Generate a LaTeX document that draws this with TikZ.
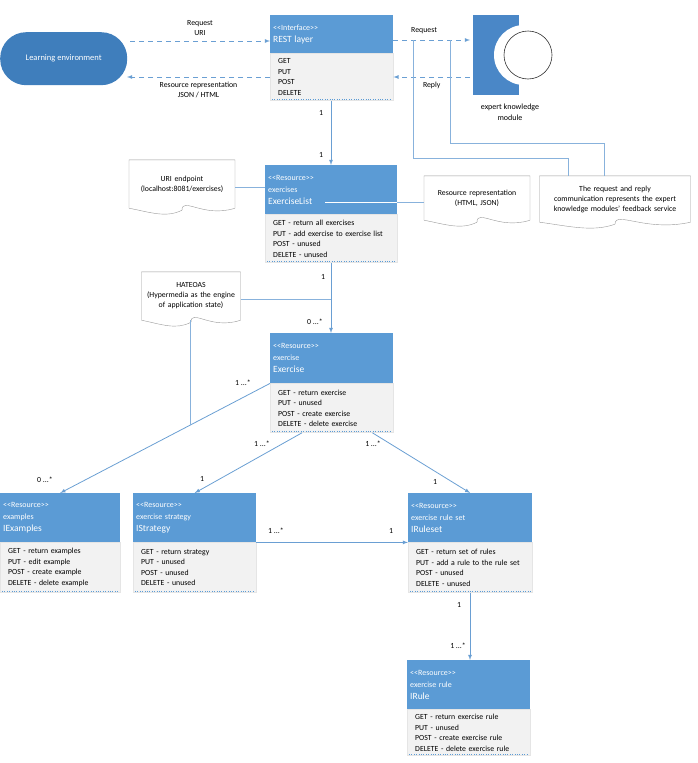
\documentclass[tikz,border=0pt]{standalone}
\usepackage{fontspec}
\setmainfont{Carlito}
\usetikzlibrary{arrows, positioning, calc}

\definecolor{hdblue}{HTML}{5B9BD5}
\definecolor{lnblue}{HTML}{6A9FD3}
\definecolor{envblue}{HTML}{3F7EBC}
\definecolor{modblue}{HTML}{4A87C7}
\definecolor{bodygrey}{HTML}{F2F2F2}

\tikzset{
    head/.style={rectangle, fill=hdblue, text=white, anchor=north west, align=left, inner sep=3pt, font=\fontsize{8}{12}\selectfont},
    body/.style={rectangle, fill=bodygrey, draw=black!10, anchor=north west, align=left, inner xsep=8pt, inner ysep=3pt, font=\fontsize{7.8}{10.5}\selectfont},
    note/.style={rectangle, align=center, font=\fontsize{7.8}{10}\selectfont},
    link/.style={draw=lnblue!80, line width=0.8pt},
    arrow/.style={->, >=latex, draw=lnblue, line width=0.8pt},
    dasharrow/.style={->, >=latex, draw=lnblue, line width=0.8pt, dash pattern=on 5pt off 4pt},
    mult/.style={font=\fontsize{7.8}{8}\selectfont}
}

\newcommand{\stereo}[1]{{<}{<}#1{>}{>}}
\newcommand{\ttl}{\fontsize{9.5}{16}\selectfont}

% document shape with a wavy bottom
\newcommand{\docnote}[6]{%
  \node[note, minimum width=#4pt, minimum height=#5pt, text width=#4pt-6pt] (#1) at (#2,#3) {#6};
  \draw[draw=black!40, fill=white] (#1.south west) -- (#1.north west) -- (#1.north east) -- (#1.south east)
     .. controls ($(#1.south east)+(-0.3*#4pt,-10pt)$) and ($(#1.south)+(0,12pt)$) .. ($(#1.south)+(0,-2pt)$)
     .. controls ($(#1.south)+(-0.15*#4pt,-10pt)$) and ($(#1.south west)+(0.2*#4pt,-4pt)$) .. (#1.south west);
  \node[note, text width=#4pt-6pt] at (#1) {#6};
}

\begin{document}
\begin{tikzpicture}[x=1pt, y=-1pt]
\useasboundingbox (0,0) rectangle (697,763);

% REST layer
\node[head, minimum width=123pt, minimum height=38pt, text width=117pt] (restH) at (270,15) {\stereo{Interface}\\\ttl REST layer};
\node[body, minimum width=123pt, minimum height=47pt, text width=107pt] (restB) at (restH.south west) {GET\\PUT\\POST\\DELETE};
\draw[hdblue, dotted] ($(restB.south west)+(2,-2)$) -- ($(restB.south east)+(-2,-2)$);

% learning environment
\node[rectangle, rounded corners=26pt, fill=envblue, text=white, minimum width=127pt, minimum height=53pt, anchor=north west, font=\fontsize{8.5}{9}\selectfont] (env) at (0,32) {Learning environment};

% expert knowledge module
\fill[modblue] (473,15) rectangle (519,95);
\fill[white] (524,55) circle (30pt);
\draw[black!80, fill=white, line width=0.6pt] (528,55) circle (24pt);
\node[note, font=\fontsize{8}{11}\selectfont] (ekm) at (510,112) {expert knowledge\\module};
\coordinate (ekmIn) at (470,40);
\coordinate (ekmOut) at (470,77);

% request / reply
\coordinate (envIn) at (127,77);
\coordinate (envOut) at (130,41);
\draw[dasharrow] (envOut) -- (restH.west |- envOut) node[midway, above, note, yshift=2pt] {Request\\URI};
\draw[dasharrow] (restB.west |- envIn) -- (envIn) node[midway, below, note, yshift=-1pt] {Resource representation\\JSON / HTML};
\draw[dasharrow] (restH.east |- ekmIn) -- (ekmIn) node[pos=0.4, above, note, yshift=3pt] {Request};
\draw[dasharrow] (ekmOut) -- (restB.east |- ekmOut) node[pos=0.5, below, note, yshift=-1pt] {Reply};

% notes
\docnote{uriNote}{182}{184}{105}{48}{URI endpoint\\(localhost:8081/exercises)}
\docnote{repNote}{477}{198}{105}{44}{Resource representation\\(HTML, JSON)}
\docnote{feedNote}{615}{199}{150}{46}{The request and reply\\communication represents the expert\\knowledge modules' feedback service}
\docnote{hateNote}{191}{296}{98}{48}{HATEOAS\\(Hypermedia as the engine\\of application state)}

\draw[link] (413,40) -- (413,158) -- (568,158) -- (568,176);
\draw[link] (450,40) -- (450,143) -- (604,143) -- (604,176);

% exercises
\node[head, minimum width=132pt, minimum height=49pt, text width=126pt] (exsH) at (265,165) {\stereo{Resource}\\exercises\\\ttl ExerciseList};
\node[body, minimum width=132pt, minimum height=48pt, text width=116pt] (exsB) at (exsH.south west) {GET - return all exercises\\PUT - add exercise to exercise list\\POST - unused\\DELETE - unused};
\draw[hdblue, dotted] ($(exsB.south west)+(2,-2)$) -- ($(exsB.south east)+(-2,-2)$);
\draw[white, line width=0.6pt] (325,202) -- (exsH.east |- 0,202);
\draw[link] (exsH.east |- 0,202) -- (repNote.west |- 0,202);
\draw[link] (uriNote.east |- 0,187) -- (exsH.west |- 0,187);

% exercise
\node[head, minimum width=123pt, minimum height=50pt, text width=117pt] (exH) at (270,333) {\stereo{Resource}\\exercise\\\ttl Exercise};
\node[body, minimum width=123pt, minimum height=49pt, text width=107pt] (exB) at (exH.south west) {GET - return exercise\\PUT - unused\\POST - create exercise\\DELETE - delete exercise};
\draw[hdblue, dotted] ($(exB.south west)+(2,-2)$) -- ($(exB.south east)+(-2,-2)$);

% examples, strategy, rule set
\node[head, minimum width=120pt, minimum height=49pt, text width=114pt] (exaH) at (0,493) {\stereo{Resource}\\examples\\\ttl IExamples};
\node[body, minimum width=120pt, minimum height=50pt, text width=104pt] (exaB) at (exaH.south west) {GET - return examples\\PUT - edit example\\POST - create example\\DELETE - delete example};
\draw[hdblue, dotted] ($(exaB.south west)+(2,-2)$) -- ($(exaB.south east)+(-2,-2)$);

\node[head, minimum width=123pt, minimum height=49pt, text width=117pt] (strH) at (133,493) {\stereo{Resource}\\exercise strategy\\\ttl IStrategy};
\node[body, minimum width=123pt, minimum height=50pt, text width=107pt] (strB) at (strH.south west) {GET - return strategy\\PUT - unused\\POST - unused\\DELETE - unused};
\draw[hdblue, dotted] ($(strB.south west)+(2,-2)$) -- ($(strB.south east)+(-2,-2)$);

\node[head, minimum width=124pt, minimum height=49pt, text width=118pt] (rsH) at (408,493) {\stereo{Resource}\\exercise rule set\\\ttl IRuleset};
\node[body, minimum width=124pt, minimum height=50pt, text width=108pt] (rsB) at (rsH.south west) {GET - return set of rules\\PUT - add a rule to the rule set\\POST - unused\\DELETE - unused};
\draw[hdblue, dotted] ($(rsB.south west)+(2,-2)$) -- ($(rsB.south east)+(-2,-2)$);

% exercise rule
\node[head, minimum width=123pt, minimum height=49pt, text width=117pt] (ruH) at (407,660) {\stereo{Resource}\\exercise rule\\\ttl IRule};
\node[body, minimum width=123pt, minimum height=46pt, text width=107pt] (ruB) at (ruH.south west) {GET - return exercise rule\\PUT - unused\\POST - create exercise rule\\DELETE - delete exercise rule};
\draw[hdblue, dotted] ($(ruB.south west)+(2,-2)$) -- ($(ruB.south east)+(-2,-2)$);

% associations
\draw[arrow] (restB.south -| 331,0) -- (exsH.north -| 331,0);
\node[mult] at (321,113) {1};
\node[mult] at (321,155) {1};

\draw[arrow] (exsB.south -| 331,0) -- (exH.north -| 331,0);
\node[mult] at (323,277) {1};
\node[mult] at (315,322) {0 ...*};
\draw[link] (hateNote.east |- 0,299) -- (331,299);

\draw[arrow] (exH.south west) -- (exaH.north);
\node[mult] at (243,383) {1 ...*};
\node[mult] at (45,480) {0 ...*};
\coordinate (hateEnd) at (190,425);
\draw[link] (hateNote.south -| hateEnd) -- (hateEnd);

\draw[arrow] ($(exB.south west)+(32,0)$) -- (strH.north);
\node[mult] at (262,444) {1 ...*};
\node[mult] at (202,479) {1};

\draw[arrow] ($(exB.south east)+(-21,0)$) -- (rsH.north);
\node[mult] at (373,444) {1 ...*};
\node[mult] at (435,482) {1};

\draw[arrow] (strH.south east) -- (rsH.south west);
\node[mult] at (276,531) {1 ...*};
\node[mult] at (391,531) {1};

\draw[arrow] (rsB.south -| 470,0) -- (ruH.north -| 470,0);
\node[mult] at (459,605) {1};
\node[mult] at (458,646) {1 ...*};

\end{tikzpicture}
\end{document}
